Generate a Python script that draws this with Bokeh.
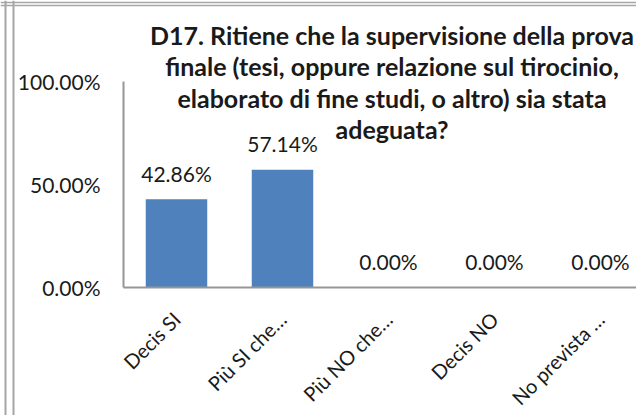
import numpy as np
from bokeh.plotting import figure
from bokeh.models import (Range1d, FixedTicker, NumeralTickFormatter, ColumnDataSource,
                          Label, Span)
from bokeh.core.properties import value
from bokeh.embed import file_html
from bokeh.resources import INLINE

# ---- data ----
categories = ["Decis SI", "Più SI che…", "Più NO che…", "Decis NO", "No prevista …"]
values = [0.4286, 0.5714, 0.0, 0.0, 0.0]
value_labels = ["42.86%", "57.14%", "0.00%", "0.00%", "0.00%"]
y_ticks = [0.0, 0.5, 1.0]
title_lines = [
    "D17. Ritiene che la supervisione della prova",
    "finale (tesi, oppure relazione sul tirocinio,",
    "elaborato di fine studi, o altro) sia stata",
    "adeguata?",
]

# ---- layout (pixels on the page) ----
W, H = 636, 415
AX_X, AX_Y = 123, 287      # position of the axes' origin
CAT_PX = 106               # width of one category
UNIT_PX = 206              # height of 100%
FONT = "Lato"
TXT = "#1a1a1a"
AXIS_COL = "#969696"
BORDER_COL = "#a6a6a6"

def dx(px):  # page x -> data x
    return (px - AX_X) / CAT_PX

def dy(py):  # page y -> data y
    return (AX_Y - py) / UNIT_PX

x_pos = (np.arange(len(categories)) + 0.5).tolist()
src = ColumnDataSource(dict(x=x_pos, v=values, lbl=value_labels))

p = figure(width=W, height=H, output_backend="svg", toolbar_location=None,
           x_range=Range1d(dx(0), dx(W)), y_range=Range1d(dy(H), dy(0)),
           min_border=0)
p.outline_line_color = None
p.grid.visible = False
p.background_fill_color = "white"
p.border_fill_color = "white"

p.vbar(x="x", top="v", width=0.58, source=src, fill_color="#4F81BD", line_color=None)
p.text(x="x", y="v", text="lbl", source=src, text_align="center",
       text_baseline="alphabetic", y_offset=-26, text_font=value(FONT),
       text_font_size="21px", text_color=TXT)

# axes drawn at the data origin, taking no side space
yax = p.yaxis[0]
yax.fixed_location = 0
yax.bounds = (min(y_ticks), max(y_ticks))
yax.ticker = FixedTicker(ticks=y_ticks)
yax.formatter = NumeralTickFormatter(format="0.00%")
yax.major_tick_out = 0
yax.major_tick_in = 0
yax.minor_tick_out = 0
yax.minor_tick_in = 0
yax.major_label_standoff = 23
yax.axis_line_color = AXIS_COL
yax.axis_line_width = 2
yax.major_label_text_font = FONT
yax.major_label_text_font_size = "21px"
yax.major_label_text_color = TXT

xax = p.xaxis[0]
xax.fixed_location = 0
xax.bounds = (0, dx(W))
xax.ticker = FixedTicker(ticks=x_pos)
xax.major_label_overrides = {x: c for x, c in zip(x_pos, categories)}
xax.major_label_orientation = np.pi / 4
xax.major_tick_out = 0
xax.major_tick_in = 0
xax.minor_tick_out = 0
xax.minor_tick_in = 0
xax.major_label_standoff = 28
xax.axis_line_color = AXIS_COL
xax.axis_line_width = 2
xax.major_label_text_font = FONT
xax.major_label_text_font_size = "20px"
xax.major_label_text_color = TXT

# sheet cell borders around the chart object
for px in (5, 13):
    p.add_layout(Span(location=dx(px), dimension="height", line_color=BORDER_COL, line_width=2))
for py in (2, 5):
    p.add_layout(Span(location=dy(py), dimension="width", line_color=BORDER_COL, line_width=1.5))

# title lines
title_cx = dx(391.5)
first_base, line_step = 34, 31.5
for i, t in enumerate(title_lines):
    p.add_layout(Label(x=title_cx, y=dy(first_base + i * line_step), text=t,
                       text_align="center", text_baseline="alphabetic",
                       text_font=FONT, text_font_style="bold",
                       text_font_size="25px", text_color=TXT))

open("out.html", "w").write(file_html(p, INLINE))
